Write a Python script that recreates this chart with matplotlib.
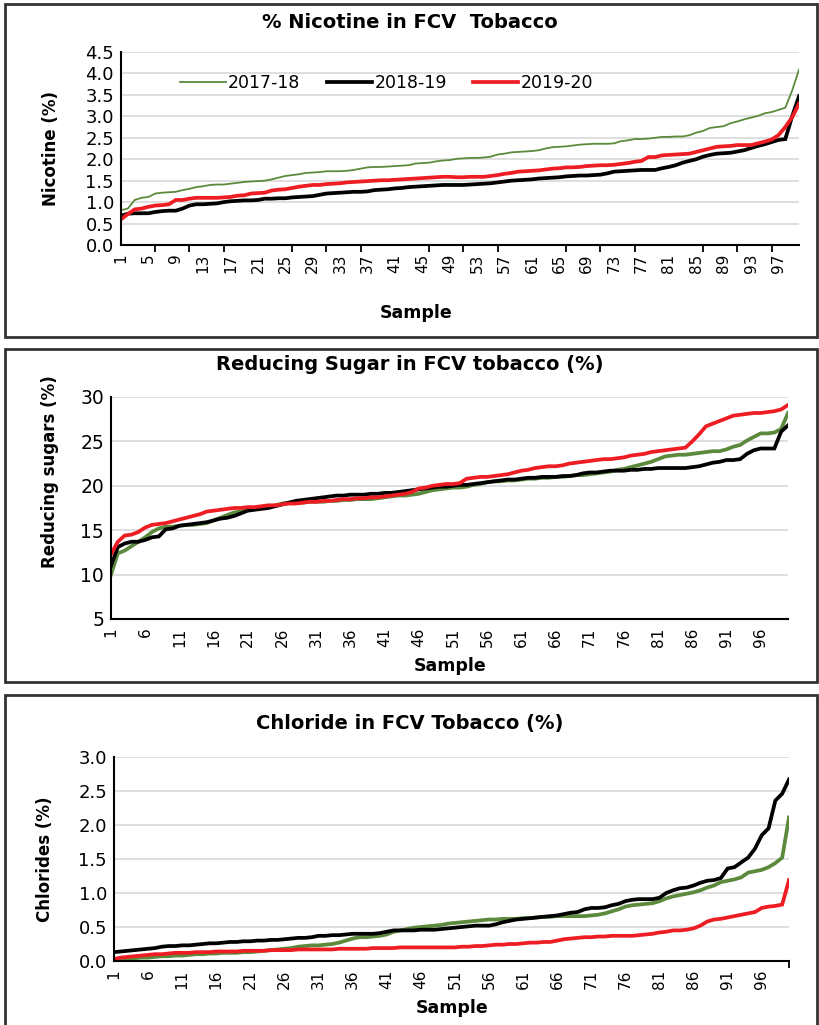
import matplotlib
matplotlib.use('Agg')
import matplotlib.pyplot as plt
from matplotlib.patches import Rectangle
from matplotlib.ticker import FormatStrFormatter, FixedLocator

# ---- data (samples 1..100, sorted values) ----
samples = list(range(1, 101))
years = ['2017-18', '2018-19', '2019-20']

nic_1718 = [0.81, 0.85, 1.05, 1.10, 1.12, 1.20, 1.22, 1.23, 1.24, 1.28,
            1.31, 1.35, 1.37, 1.40, 1.41, 1.41, 1.43, 1.45, 1.47, 1.48,
            1.49, 1.50, 1.53, 1.57, 1.61, 1.63, 1.65, 1.68, 1.69, 1.70,
            1.72, 1.72, 1.72, 1.73, 1.75, 1.78, 1.81, 1.82, 1.82, 1.83,
            1.84, 1.85, 1.86, 1.90, 1.91, 1.92, 1.95, 1.97, 1.98, 2.01,
            2.02, 2.03, 2.03, 2.04, 2.06, 2.11, 2.13, 2.16, 2.17, 2.18,
            2.19, 2.21, 2.25, 2.28, 2.29, 2.30, 2.32, 2.34, 2.35, 2.36,
            2.36, 2.36, 2.37, 2.42, 2.44, 2.47, 2.47, 2.48, 2.50, 2.52,
            2.52, 2.53, 2.53, 2.56, 2.62, 2.66, 2.73, 2.75, 2.77, 2.84,
            2.88, 2.93, 2.97, 3.01, 3.07, 3.10, 3.15, 3.20, 3.60, 4.09]
nic_1819 = [0.68, 0.73, 0.74, 0.74, 0.74, 0.77, 0.79, 0.80, 0.80, 0.85,
            0.92, 0.95, 0.95, 0.96, 0.97, 1.00, 1.02, 1.03, 1.04, 1.04,
            1.05, 1.08, 1.08, 1.09, 1.09, 1.11, 1.12, 1.13, 1.14, 1.17,
            1.20, 1.21, 1.22, 1.23, 1.24, 1.24, 1.25, 1.28, 1.29, 1.30,
            1.32, 1.33, 1.35, 1.36, 1.37, 1.38, 1.39, 1.40, 1.40, 1.40,
            1.40, 1.41, 1.42, 1.43, 1.44, 1.46, 1.48, 1.50, 1.51, 1.52,
            1.53, 1.55, 1.56, 1.57, 1.58, 1.60, 1.61, 1.62, 1.62, 1.63,
            1.64, 1.67, 1.71, 1.72, 1.73, 1.74, 1.75, 1.75, 1.75, 1.79,
            1.82, 1.86, 1.92, 1.96, 2.00, 2.06, 2.10, 2.13, 2.14, 2.15,
            2.18, 2.21, 2.26, 2.31, 2.35, 2.40, 2.45, 2.47, 3.00, 3.47]
nic_1920 = [0.60, 0.72, 0.83, 0.85, 0.89, 0.92, 0.93, 0.95, 1.05, 1.05,
            1.08, 1.10, 1.10, 1.10, 1.10, 1.11, 1.12, 1.15, 1.16, 1.20,
            1.21, 1.22, 1.27, 1.29, 1.30, 1.33, 1.36, 1.38, 1.40, 1.40,
            1.42, 1.43, 1.44, 1.46, 1.47, 1.48, 1.49, 1.50, 1.51, 1.51,
            1.52, 1.53, 1.54, 1.55, 1.56, 1.57, 1.58, 1.59, 1.59, 1.58,
            1.58, 1.59, 1.59, 1.59, 1.61, 1.63, 1.66, 1.68, 1.71, 1.72,
            1.73, 1.74, 1.76, 1.78, 1.79, 1.81, 1.81, 1.82, 1.84, 1.85,
            1.86, 1.86, 1.87, 1.89, 1.91, 1.94, 1.96, 2.05, 2.05, 2.09,
            2.10, 2.11, 2.12, 2.13, 2.17, 2.21, 2.25, 2.29, 2.30, 2.31,
            2.33, 2.33, 2.33, 2.37, 2.41, 2.46, 2.56, 2.75, 2.98, 3.29]

sug_1718 = [10.0, 12.4, 12.7, 13.2, 13.7, 14.2, 14.8, 15.2, 15.4, 15.4,
            15.5, 15.6, 15.6, 15.7, 15.8, 16.1, 16.4, 16.7, 17.0, 17.1,
            17.3, 17.4, 17.5, 17.6, 17.8, 18.0, 18.1, 18.1, 18.1, 18.2,
            18.2, 18.2, 18.3, 18.3, 18.4, 18.4, 18.5, 18.5, 18.5, 18.6,
            18.7, 18.8, 18.9, 18.9, 19.0, 19.1, 19.3, 19.5, 19.6, 19.7,
            19.8, 19.8, 19.9, 20.1, 20.2, 20.4, 20.5, 20.5, 20.6, 20.6,
            20.7, 20.8, 20.8, 20.9, 20.9, 21.0, 21.0, 21.1, 21.2, 21.2,
            21.3, 21.4, 21.5, 21.6, 21.8, 21.9, 22.1, 22.3, 22.5, 22.7,
            23.0, 23.3, 23.4, 23.5, 23.5, 23.6, 23.7, 23.8, 23.9, 23.9,
            24.1, 24.4, 24.6, 25.1, 25.5, 25.9, 25.9, 26.0, 26.4, 28.2]
sug_1819 = [11.0, 13.1, 13.5, 13.7, 13.7, 13.9, 14.2, 14.3, 15.1, 15.2,
            15.5, 15.6, 15.7, 15.8, 15.9, 16.1, 16.3, 16.4, 16.6, 16.9,
            17.2, 17.3, 17.4, 17.5, 17.7, 17.9, 18.1, 18.3, 18.4, 18.5,
            18.6, 18.7, 18.8, 18.9, 18.9, 19.0, 19.0, 19.0, 19.1, 19.1,
            19.2, 19.2, 19.3, 19.4, 19.5, 19.6, 19.7, 19.8, 19.9, 19.9,
            20.0, 20.1, 20.1, 20.2, 20.3, 20.4, 20.5, 20.6, 20.7, 20.7,
            20.8, 20.9, 20.9, 21.0, 21.0, 21.0, 21.1, 21.1, 21.2, 21.4,
            21.5, 21.5, 21.6, 21.7, 21.7, 21.7, 21.8, 21.8, 21.9, 21.9,
            22.0, 22.0, 22.0, 22.0, 22.0, 22.1, 22.2, 22.4, 22.6, 22.7,
            22.9, 22.9, 23.0, 23.6, 24.0, 24.2, 24.2, 24.2, 26.1, 26.8]
sug_1920 = [12.3, 13.7, 14.4, 14.5, 14.8, 15.3, 15.6, 15.7, 15.8, 16.0,
            16.2, 16.4, 16.6, 16.8, 17.1, 17.2, 17.3, 17.4, 17.5, 17.5,
            17.6, 17.6, 17.7, 17.8, 17.8, 17.9, 18.0, 18.0, 18.1, 18.2,
            18.2, 18.3, 18.3, 18.4, 18.5, 18.5, 18.6, 18.6, 18.7, 18.7,
            18.8, 18.9, 19.0, 19.1, 19.3, 19.7, 19.8, 20.0, 20.1, 20.2,
            20.2, 20.3, 20.8, 20.9, 21.0, 21.0, 21.1, 21.2, 21.3, 21.5,
            21.7, 21.8, 22.0, 22.1, 22.2, 22.2, 22.3, 22.5, 22.6, 22.7,
            22.8, 22.9, 23.0, 23.0, 23.1, 23.2, 23.4, 23.5, 23.6, 23.8,
            23.9, 24.0, 24.1, 24.2, 24.3, 25.0, 25.8, 26.7, 27.0, 27.3,
            27.6, 27.9, 28.0, 28.1, 28.2, 28.2, 28.3, 28.4, 28.6, 29.1]

chl_1718 = [0.00, 0.02, 0.03, 0.04, 0.05, 0.05, 0.06, 0.07, 0.07, 0.08,
            0.08, 0.09, 0.10, 0.10, 0.11, 0.11, 0.12, 0.12, 0.12, 0.13,
            0.13, 0.14, 0.15, 0.16, 0.17, 0.18, 0.19, 0.21, 0.22, 0.23,
            0.23, 0.24, 0.25, 0.27, 0.30, 0.33, 0.35, 0.35, 0.36, 0.37,
            0.39, 0.43, 0.45, 0.47, 0.49, 0.50, 0.51, 0.52, 0.53, 0.55,
            0.56, 0.57, 0.58, 0.59, 0.60, 0.61, 0.61, 0.62, 0.62, 0.62,
            0.63, 0.63, 0.64, 0.65, 0.65, 0.66, 0.66, 0.66, 0.66, 0.66,
            0.67, 0.68, 0.70, 0.73, 0.76, 0.80, 0.82, 0.83, 0.84, 0.85,
            0.88, 0.92, 0.95, 0.97, 0.99, 1.01, 1.04, 1.08, 1.11, 1.16,
            1.18, 1.20, 1.23, 1.30, 1.32, 1.34, 1.38, 1.44, 1.52, 2.11]
chl_1819 = [0.13, 0.14, 0.15, 0.16, 0.17, 0.18, 0.19, 0.21, 0.22, 0.22,
            0.23, 0.23, 0.24, 0.25, 0.26, 0.26, 0.27, 0.28, 0.28, 0.29,
            0.29, 0.30, 0.30, 0.31, 0.31, 0.32, 0.33, 0.34, 0.34, 0.35,
            0.37, 0.37, 0.38, 0.38, 0.39, 0.40, 0.40, 0.40, 0.40, 0.41,
            0.43, 0.45, 0.45, 0.45, 0.45, 0.46, 0.46, 0.46, 0.47, 0.48,
            0.49, 0.50, 0.51, 0.52, 0.52, 0.52, 0.54, 0.57, 0.59, 0.61,
            0.62, 0.63, 0.64, 0.65, 0.66, 0.67, 0.69, 0.71, 0.72, 0.76,
            0.78, 0.78, 0.79, 0.82, 0.84, 0.88, 0.90, 0.91, 0.91, 0.91,
            0.93, 1.00, 1.04, 1.07, 1.08, 1.11, 1.15, 1.18, 1.19, 1.22,
            1.36, 1.38, 1.45, 1.52, 1.65, 1.85, 1.95, 2.36, 2.46, 2.67]
chl_1920 = [0.03, 0.05, 0.06, 0.07, 0.08, 0.09, 0.10, 0.10, 0.11, 0.12,
            0.12, 0.12, 0.13, 0.13, 0.13, 0.14, 0.14, 0.14, 0.14, 0.15,
            0.15, 0.15, 0.15, 0.16, 0.16, 0.16, 0.16, 0.17, 0.17, 0.17,
            0.17, 0.17, 0.17, 0.18, 0.18, 0.18, 0.18, 0.18, 0.19, 0.19,
            0.19, 0.19, 0.20, 0.20, 0.20, 0.20, 0.20, 0.20, 0.20, 0.20,
            0.20, 0.21, 0.21, 0.22, 0.22, 0.23, 0.24, 0.24, 0.25, 0.25,
            0.26, 0.27, 0.27, 0.28, 0.28, 0.30, 0.32, 0.33, 0.34, 0.35,
            0.35, 0.36, 0.36, 0.37, 0.37, 0.37, 0.37, 0.38, 0.39, 0.40,
            0.42, 0.43, 0.45, 0.45, 0.46, 0.48, 0.52, 0.58, 0.61, 0.62,
            0.64, 0.66, 0.68, 0.70, 0.72, 0.78, 0.80, 0.81, 0.83, 1.19]

colors = ['#5b8a3c', '#000000', '#ee1d24']
W, H = 820, 1025
NARROW = ['Liberation Sans Narrow', 'DejaVu Sans']
WIDE = 'DejaVu Sans'


def fx(px):
    return px / W


def fy(py):
    return 1 - py / H


def make_panel(fig, box, title, ylabel, series, widths, ylim, yfmt, ystep,
               label_ticks, minor_ticks, title_y, ylab_x, ylab_y, samp_x, samp_y,
               ytick_size=13):
    left, right, top, bottom = box
    ax = fig.add_axes([fx(left), fy(bottom), fx(right - left), (bottom - top) / H])
    for vals, c, lw in zip(series, colors, widths):
        ax.plot(samples, vals, color=c, lw=lw, solid_joinstyle='miter')
    ax.set_xlim(1, 100)
    ax.set_ylim(*ylim)
    yt = []
    v = ylim[0]
    while v <= ylim[1] + 1e-9:
        yt.append(v)
        v += ystep
    ax.set_yticks(yt)
    ax.yaxis.set_major_formatter(FormatStrFormatter(yfmt))
    ax.grid(axis='y', color='#d9d9d9', lw=1.2)
    ax.set_axisbelow(True)
    for s in ['top', 'right']:
        ax.spines[s].set_visible(False)
    ax.spines['left'].set_lw(1.5)
    ax.spines['bottom'].set_lw(1.5)
    ax.tick_params(axis='y', length=0, pad=5, labelsize=ytick_size)
    for t in ax.get_yticklabels():
        t.set_family(WIDE)
    ax.set_xticks(label_ticks)
    ax.set_xticklabels([str(t) for t in label_ticks], rotation=90,
                       family=NARROW, fontsize=11)
    ax.tick_params(axis='x', which='major', length=0, pad=6)
    ax.xaxis.set_minor_locator(FixedLocator(minor_ticks))
    ax.tick_params(axis='x', which='minor', length=5, width=1.3, direction='out')
    fig.text(0.5, fy(title_y), title, ha='center', va='center',
             fontsize=14, fontweight='bold', family=WIDE)
    fig.text(fx(ylab_x), fy(ylab_y), ylabel, ha='center', va='center',
             rotation=90, fontsize=12, fontweight='bold', family=NARROW)
    fig.text(fx(samp_x), fy(samp_y), 'Sample', ha='center', va='center',
             fontsize=12.5, fontweight='bold', family=WIDE)
    return ax


fig = plt.figure(figsize=(W / 100, H / 100), dpi=100)

# outer frames
for y0, y1 in [(4, 337), (349, 682), (695, 1040)]:
    fig.patches.append(Rectangle((fx(5), fy(y1)), fx(812), (y1 - y0) / H,
                                 transform=fig.transFigure, fill=False,
                                 ec='#333333', lw=2))

ax1 = make_panel(fig, (121, 799, 52, 245), '% Nicotine in FCV  Tobacco', 'Nicotine (%)',
                 [nic_1718, nic_1819, nic_1920], [1.3, 2.7, 2.7], (0, 4.5), '%.1f', 0.5,
                 list(range(1, 98, 4)), list(range(6, 97, 5)),
                 22, 51, 148, 416, 313)
leg = ax1.legend(years, loc='center', bbox_to_anchor=(0.392, 0.84), ncol=3,
                 frameon=False, handlelength=2.6, handletextpad=0.15,
                 columnspacing=1.5, prop={'family': WIDE, 'size': 12.5})

ax2 = make_panel(fig, (111, 788, 397, 619), 'Reducing Sugar in FCV tobacco (%)',
                 'Reducing sugars (%)',
                 [sug_1718, sug_1819, sug_1920], [2.7, 2.7, 2.7], (5, 30), '%d', 5,
                 list(range(1, 97, 5)), list(range(6, 97, 5)),
                 365, 50, 472, 450, 666, ytick_size=13.5)

ax3 = make_panel(fig, (114, 789, 757, 961), 'Chloride in FCV Tobacco (%)', 'Chlorides (%)',
                 [chl_1718, chl_1819, chl_1920], [2.7, 2.7, 2.7], (0, 3.0), '%.1f', 0.5,
                 list(range(1, 97, 5)), list(range(6, 97, 5)) + [100],
                 723, 45, 859, 452, 1008)

fig.savefig('out.png', dpi=100)
